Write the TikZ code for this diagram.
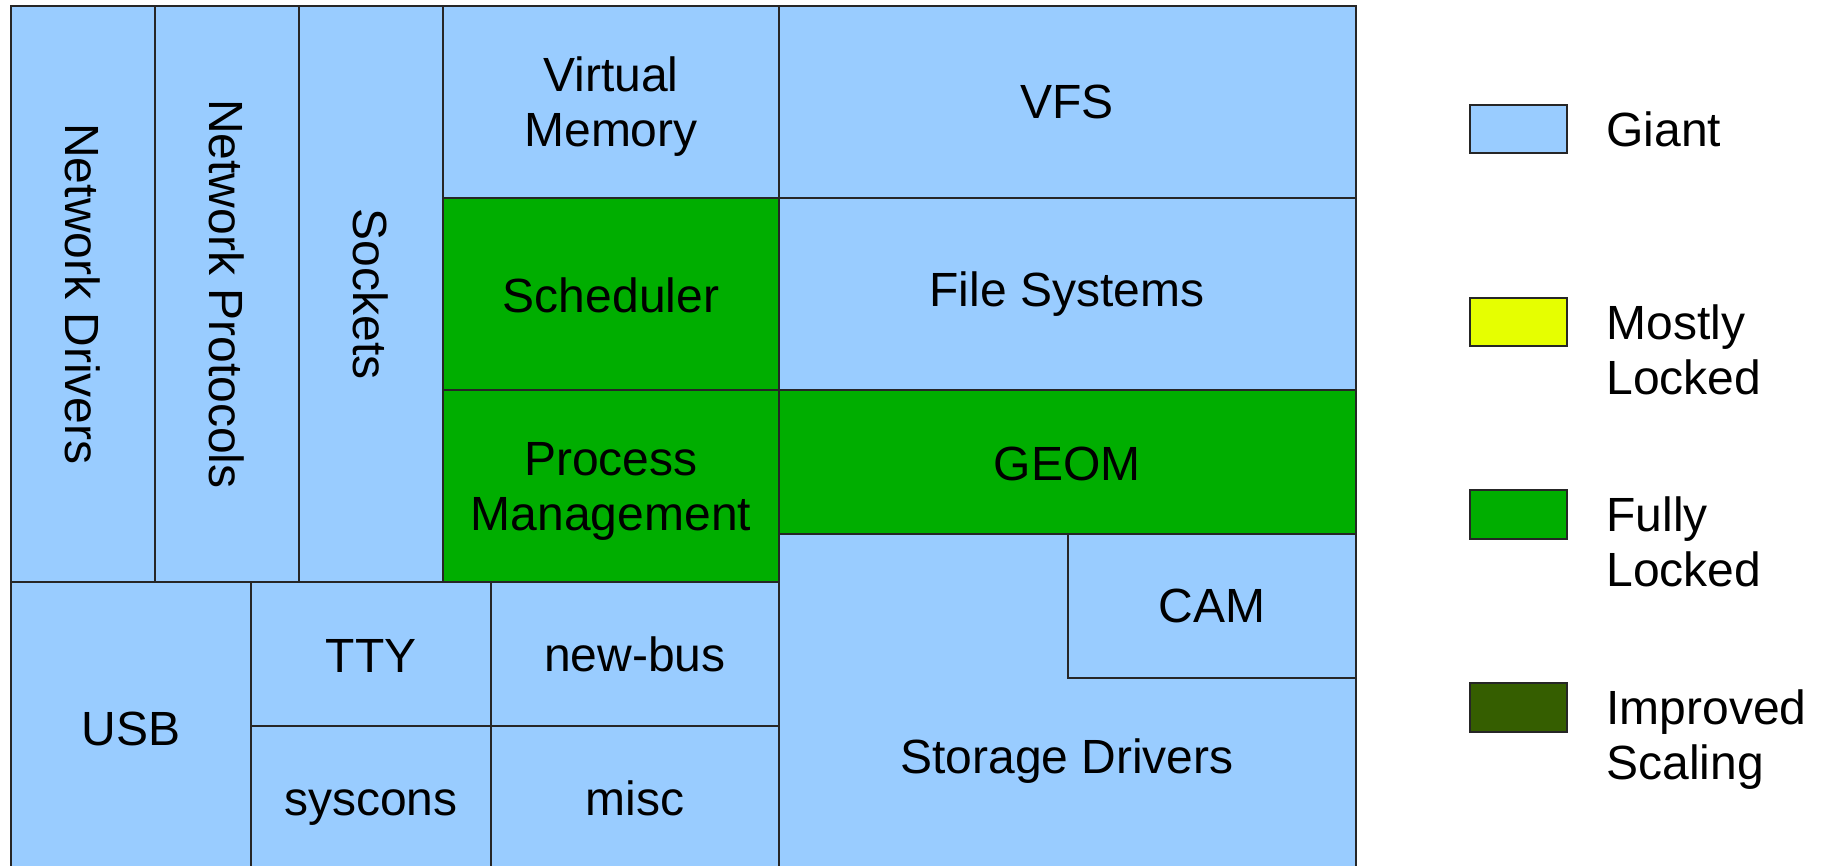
\documentclass[tikz,border=0pt]{standalone}
\usepackage{fontspec}
\setmainfont{Liberation Sans}
\definecolor{giantblue}{HTML}{99CCFF}
\definecolor{mostlyyellow}{HTML}{E6FF00}
\definecolor{fullygreen}{HTML}{00AE00}
\definecolor{improvedgreen}{HTML}{355E00}
\begin{document}
\begin{tikzpicture}[x=0.5pt,y=-0.5pt,
        area/.style={draw=black!85,line width=0.6pt},
        giant/.style={area,fill=giantblue},
        mostly/.style={area,fill=mostlyyellow},
        fully/.style={area,fill=fullygreen},
        improved/.style={area,fill=improvedgreen},
        lbl/.style={inner sep=0pt,align=center,font=\fontsize{24}{27.5}\selectfont},
        key/.style={inner sep=0pt,align=left,anchor=north west,font=\fontsize{24}{27.5}\selectfont}]
            \clip (0,0) rectangle (1822,866);
            \fill[white] (0,0) rectangle (1822,866);

            % network stack, top left
            \draw[giant] (11,6) rectangle (155,582);
            \draw[giant] (155,6) rectangle (299,582);
            \draw[giant] (299,6) rectangle (443,582);
            \node[lbl,rotate=-90] (netdrv) at (83,294) {Network Drivers};
            \node[lbl,rotate=-90] (netproto) at (227,294) {Network Protocols};
            \node[lbl,rotate=-90] (sockets) at (371,294) {Sockets};

            % middle column
            \draw[giant] (443,6) rectangle (779,198);
            \draw[fully] (443,198) rectangle (779,390);
            \draw[fully] (443,390) rectangle (779,582);
            \node[lbl] (vm) at (611,107) {Virtual\\Memory};
            \node[lbl] (sched) at (611,295) {Scheduler};
            \node[lbl] (proc) at (611,491) {Process\\Management};

            % storage stack
            \draw[giant] (779,6) rectangle (1356,198);
            \draw[giant] (779,198) rectangle (1356,390);
            \draw[fully] (779,390) rectangle (1356,534);
            \draw[giant] (779,534) rectangle (1356,870);
            \draw[giant] (1068,534) rectangle (1356,678);
            \node[lbl] (vfs) at (1067,102) {VFS};
            \node[lbl] (fs) at (1067,294) {File Systems};
            \node[lbl] (geom) at (1067,464) {GEOM};
            \node[lbl] (cam) at (1212,606) {CAM};
            \node[lbl] (storage) at (1067,761) {Storage Drivers};

            % bottom left
            \draw[giant] (11,582) rectangle (251,870);
            \draw[giant] (251,582) rectangle (491,726);
            \draw[giant] (491,582) rectangle (779,726);
            \draw[giant] (251,726) rectangle (491,870);
            \draw[giant] (491,726) rectangle (779,870);
            \node[lbl] (usb) at (131,729) {USB};
            \node[lbl] (tty) at (371,656) {TTY};
            \node[lbl] (newbus) at (635,654) {new-bus};
            \node[lbl] (syscons) at (371,808) {syscons};
            \node[lbl] (misc) at (635,798) {misc};

            % legend
            \draw[giant] (1470,105) rectangle (1567,153);
            \draw[mostly] (1470,298) rectangle (1567,346);
            \draw[fully] (1470,490) rectangle (1567,539);
            \draw[improved] (1470,683) rectangle (1567,732);
            \node[key] (kgiant) at (1606,111) {Giant};
            \node[key] (kmostly) at (1606,304) {Mostly\\Locked};
            \node[key] (kfully) at (1606,496) {Fully\\Locked};
            \node[key] (kimproved) at (1606,689) {Improved\\Scaling};
        \end{tikzpicture}
\end{document}
